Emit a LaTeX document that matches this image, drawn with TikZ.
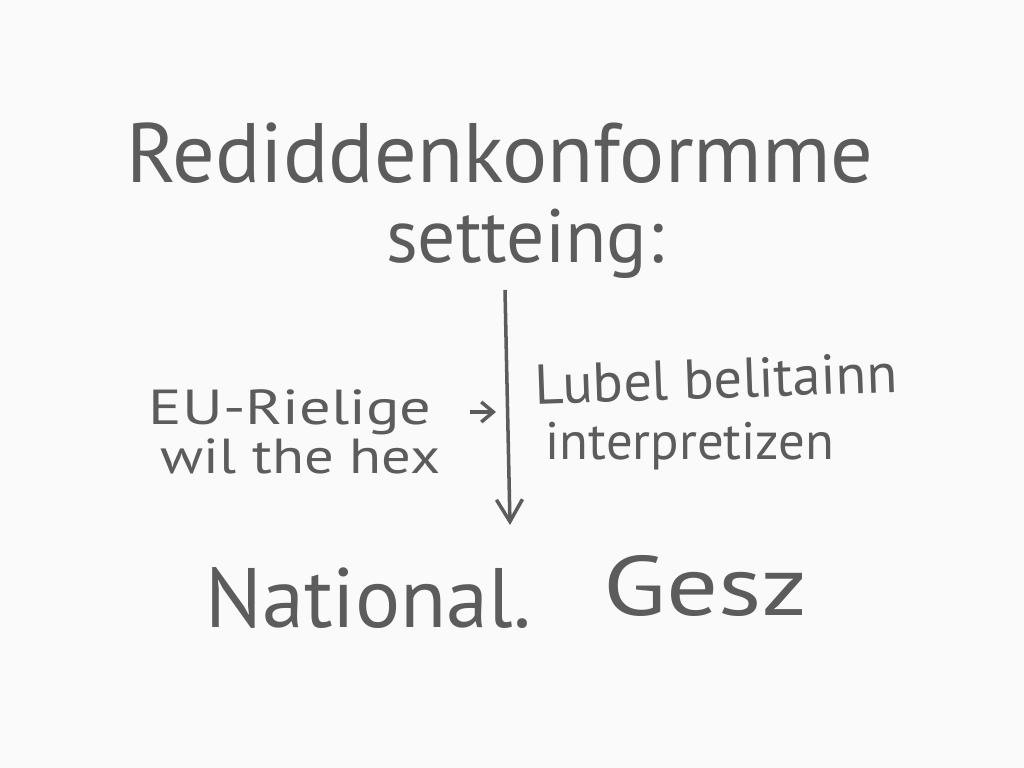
\documentclass[tikz,border=0pt]{standalone}
\usepackage{fontspec}
\setmainfont{PT Sans}
\usepackage{tikz}
\usetikzlibrary{arrows.meta}
\definecolor{pencil}{RGB}{92,92,92}
\definecolor{paper}{RGB}{250,250,250}
\tikzset{
  big/.style={text=pencil, inner sep=0pt, anchor=base, font=\fontsize{24}{28}\selectfont},
  mid/.style={text=pencil, inner sep=0pt, anchor=base west, font=\fontsize{14}{17}\selectfont},
  stroke/.style={draw=pencil, line width=1pt, -{Straight Barb[length=2.2mm, width=2.6mm]}},
}

\begin{document}
\begin{tikzpicture}
\fill[paper] (0,0) rectangle (10.24,7.68);
\useasboundingbox (0,0) rectangle (10.24,7.68);
\node[big](title) at (5.00,5.85) {Rediddenkonformme};
\node[big, font=\fontsize{21.5}{26}\selectfont](setting) at (5.25,5.05) {setteing:};
\node[mid, xscale=1.27, transform shape](eu) at (1.48,3.43) {EU-Rielige};
\node[mid, xscale=1.19, transform shape](hex) at (1.60,2.94) {wil the hex};
\node[mid, font=\fontsize{16}{19}\selectfont, rotate=2](lubel) at (5.35,3.63) {Lubel belitainn};
\node[mid, font=\fontsize{15}{18}\selectfont](interp) at (5.45,3.08) {interpretizen};
\node[big, anchor=base west](national) at (2.05,1.40) {National.\hspace{0.72cm}\raisebox{0.12cm}{\scalebox{1.22}[1]{Gesz}}};
%
\coordinate(top) at (5.05,4.78);
\coordinate(bot) at (5.10,2.43);
\coordinate(hint) at (4.70,3.56);
\coordinate(hit) at (4.96,3.56);
\draw[stroke](top) -- (bot);
\draw[stroke, -{Straight Barb[length=1.2mm, width=2mm]}](hint) -- (hit);
\end{tikzpicture}
\end{document}
